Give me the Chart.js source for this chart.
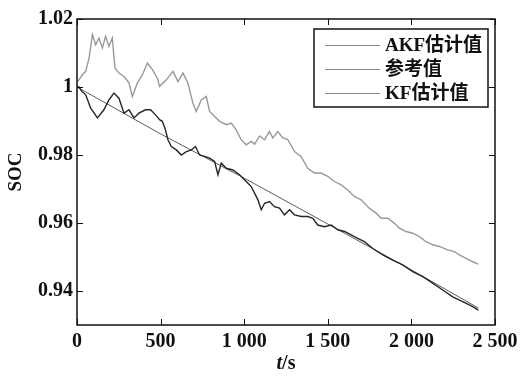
<!DOCTYPE html>
<html>
<head>
    <title>SOC</title>
    <script src="https://cdn.jsdelivr.net/npm/chart.js"></script>
    <style>
        body { margin: 0; background: #fff; }
        #wrap { width: 530px; height: 378px; }
    </style>
</head>
<body>
    <div id="wrap">
        <canvas id="myChart" width="530" height="378"></canvas>
    </div>

    <script>
        // values
        const akfT = [0, 12, 30, 52, 82, 122, 161, 191, 221, 251, 281, 311, 341, 370, 410, 440, 470, 494, 510, 526, 544, 564, 594, 624, 654, 684, 709, 733, 763, 793, 823, 843, 863, 893, 932, 972, 1012, 1042, 1062, 1082, 1102, 1122, 1151, 1181, 1211, 1241, 1271, 1301, 1341, 1380, 1410, 1440, 1480, 1520, 1560, 1600, 1640, 1679, 1719, 1769, 1829, 1888, 1948, 2008, 2068, 2127, 2187, 2247, 2307, 2367, 2400];
        const akfV = [1.0000, 1.0000, 0.9987, 0.9977, 0.9938, 0.9909, 0.9933, 0.9962, 0.9982, 0.9967, 0.9923, 0.9933, 0.9909, 0.9923, 0.9933, 0.9933, 0.9918, 0.9904, 0.9899, 0.9879, 0.9845, 0.9825, 0.9815, 0.9800, 0.9810, 0.9815, 0.9825, 0.9800, 0.9796, 0.9791, 0.9781, 0.9742, 0.9776, 0.9761, 0.9756, 0.9742, 0.9722, 0.9707, 0.9688, 0.9668, 0.9639, 0.9658, 0.9663, 0.9648, 0.9644, 0.9624, 0.9639, 0.9624, 0.9619, 0.9619, 0.9614, 0.9594, 0.9589, 0.9594, 0.9580, 0.9575, 0.9565, 0.9555, 0.9545, 0.9525, 0.9506, 0.9491, 0.9477, 0.9457, 0.9442, 0.9423, 0.9403, 0.9383, 0.9369, 0.9354, 0.9344];

        const refT = [0, 500, 1000, 1500, 2000, 2400];
        const refV = [1.0000, 0.9862, 0.9732, 0.9597, 0.9462, 0.9350];

        const kfT = [0, 12, 32, 52, 72, 92, 112, 131, 152, 171, 191, 211, 227, 251, 281, 311, 331, 361, 391, 421, 451, 481, 494, 534, 574, 604, 634, 663, 693, 713, 743, 773, 793, 823, 853, 893, 922, 952, 982, 1012, 1042, 1062, 1092, 1122, 1151, 1171, 1201, 1231, 1261, 1301, 1341, 1380, 1420, 1460, 1500, 1540, 1580, 1619, 1659, 1699, 1749, 1789, 1819, 1859, 1899, 1928, 1968, 2008, 2048, 2088, 2127, 2167, 2217, 2257, 2287, 2327, 2367, 2400];
        const kfV = [1.0015, 1.0021, 1.0036, 1.0046, 1.0085, 1.0154, 1.0124, 1.0144, 1.0115, 1.0149, 1.0119, 1.0144, 1.0056, 1.0041, 1.0031, 1.0012, 0.9972, 1.0012, 1.0036, 1.0070, 1.0051, 1.0026, 1.0002, 1.0021, 1.0046, 1.0016, 1.0041, 1.0012, 0.9953, 0.9928, 0.9962, 0.9972, 0.9928, 0.9913, 0.9899, 0.9889, 0.9894, 0.9874, 0.9845, 0.9830, 0.9840, 0.9832, 0.9856, 0.9845, 0.9869, 0.9850, 0.9869, 0.9850, 0.9845, 0.9810, 0.9795, 0.9761, 0.9747, 0.9747, 0.9737, 0.9722, 0.9712, 0.9697, 0.9678, 0.9668, 0.9643, 0.9629, 0.9614, 0.9614, 0.9599, 0.9585, 0.9575, 0.9570, 0.9560, 0.9545, 0.9536, 0.9531, 0.9521, 0.9516, 0.9506, 0.9496, 0.9486, 0.9479];

        const seriesNames = ['AKF估计值', '参考值', 'KF估计值'];
        const xTicks = [0, 500, 1000, 1500, 2000, 2500];
        const xTickLabels = ['0', '500', '1 000', '1 500', '2 000', '2 500'];
        const yTicks = [0.94, 0.96, 0.98, 1, 1.02];
        const yTickLabels = ['0.94', '0.96', '0.98', '1', '1.02'];

        const serif = '"Liberation Serif", "Times New Roman", serif';
        const cjk = '"Liberation Serif", "Noto Sans CJK SC", serif';

        function pts(t, v) {
            return t.map((x, i) => ({ x: x, y: v[i] }));
        }

        // matlab style frame, inward ticks, axis titles and legend
        const matlabFrame = {
            id: 'matlabFrame',
            afterDraw(chart) {
                const ctx = chart.ctx;
                const a = chart.chartArea;
                const xs = chart.scales.x, ys = chart.scales.y;
                ctx.save();
                ctx.strokeStyle = '#111';
                ctx.lineWidth = 1;
                xTicks.forEach(v => {
                    const px = Math.round(xs.getPixelForValue(v)) + 0.5;
                    ctx.beginPath();
                    ctx.moveTo(px, a.bottom); ctx.lineTo(px, a.bottom - 6);
                    ctx.moveTo(px, a.top); ctx.lineTo(px, a.top + 6);
                    ctx.stroke();
                });
                yTicks.forEach(v => {
                    const py = Math.round(ys.getPixelForValue(v)) + 0.5;
                    ctx.beginPath();
                    ctx.moveTo(a.left, py); ctx.lineTo(a.left + 6, py);
                    ctx.moveTo(a.right, py); ctx.lineTo(a.right - 6, py);
                    ctx.stroke();
                });
                ctx.lineWidth = 1.5;
                ctx.strokeRect(a.left, a.top, a.right - a.left, a.bottom - a.top);

                // axis titles
                ctx.fillStyle = '#111';
                ctx.textBaseline = 'middle';
                ctx.font = 'italic bold 20px ' + serif;
                const tw = ctx.measureText('t').width;
                ctx.font = 'bold 20px ' + serif;
                const sw = ctx.measureText('/s').width;
                const cx = (a.left + a.right) / 2;
                let x0 = cx - (tw + sw) / 2;
                ctx.textAlign = 'left';
                ctx.font = 'italic bold 20px ' + serif;
                ctx.fillText('t', x0, 364);
                ctx.font = 'bold 20px ' + serif;
                ctx.fillText('/s', x0 + tw, 364);

                ctx.save();
                ctx.translate(16, (a.top + a.bottom) / 2);
                ctx.rotate(-Math.PI / 2);
                ctx.textAlign = 'center';
                ctx.font = 'bold 19px ' + serif;
                ctx.fillText('SOC', 0, 0);
                ctx.restore();

                // legend box
                const lx = 314, ly = 29, lw = 174, lh = 78;
                ctx.fillStyle = '#fff';
                ctx.fillRect(lx, ly, lw, lh);
                ctx.lineWidth = 1.5;
                ctx.strokeStyle = '#111';
                ctx.strokeRect(lx, ly, lw, lh);
                const rows = [45, 69, 93];
                chart.data.datasets.forEach((ds, i) => {
                    ctx.strokeStyle = '#888';
                    ctx.lineWidth = 1;
                    ctx.beginPath();
                    ctx.moveTo(325, rows[i] + 0.5);
                    ctx.lineTo(380, rows[i] + 0.5);
                    ctx.stroke();
                    ctx.fillStyle = '#111';
                    ctx.textAlign = 'left';
                    ctx.font = 'bold 19px ' + cjk;
                    ctx.fillText(ds.label, 385, rows[i] + 1);
                });
                ctx.restore();
            }
        };

        const ctx = document.getElementById('myChart').getContext('2d');
        window.myChart = new Chart(ctx, {
            type: 'line',
            data: {
                datasets: [{
                    label: seriesNames[0],
                    data: pts(akfT, akfV),
                    borderColor: '#262626',
                    borderWidth: 1.4
                }, {
                    label: seriesNames[1],
                    data: pts(refT, refV),
                    borderColor: '#5a5a5a',
                    borderWidth: 1
                }, {
                    label: seriesNames[2],
                    data: pts(kfT, kfV),
                    borderColor: '#999',
                    borderWidth: 1.4
                }]
            },
            options: {
                responsive: false,
                animation: false,
                layout: { padding: { top: 19, right: 35, left: 0, bottom: 0 } },
                elements: { point: { radius: 0 }, line: { tension: 0 } },
                plugins: { legend: { display: false }, tooltip: { enabled: false } },
                scales: {
                    x: {
                        type: 'linear',
                        min: 0, max: 2500,
                        afterFit: s => { s.height = 53; },
                        afterBuildTicks: s => { s.ticks = xTicks.map(v => ({ value: v })); },
                        grid: { display: false, drawTicks: false },
                        border: { display: false },
                        ticks: {
                            padding: 5,
                            maxRotation: 0,
                            color: '#111',
                            font: { family: serif, size: 20, weight: 'bold' },
                            callback: (v) => xTickLabels[xTicks.indexOf(v)]
                        }
                    },
                    y: {
                        min: 0.93, max: 1.02,
                        afterFit: s => { s.width = 77; },
                        afterBuildTicks: s => { s.ticks = yTicks.map(v => ({ value: v })); },
                        grid: { display: false, drawTicks: false },
                        border: { display: false },
                        ticks: {
                            padding: 4,
                            color: '#111',
                            font: { family: serif, size: 20, weight: 'bold' },
                            callback: (v) => yTickLabels[yTicks.indexOf(v)]
                        }
                    }
                }
            },
            plugins: [matlabFrame]
        });
    </script>
</body>
</html>
